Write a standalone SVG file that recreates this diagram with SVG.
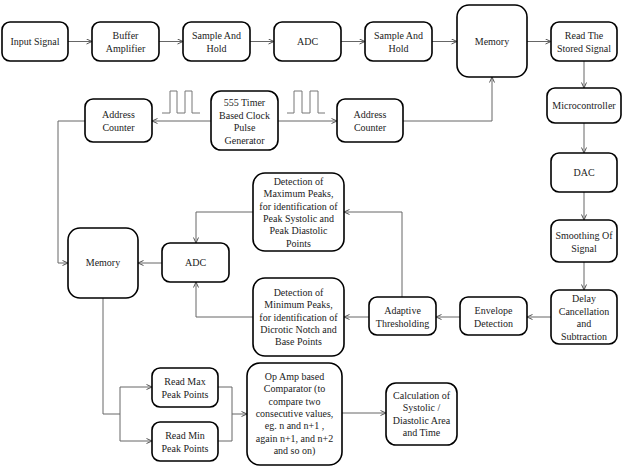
<svg xmlns="http://www.w3.org/2000/svg" width="623" height="467" viewBox="0 0 623 467" font-family="Liberation Serif, Times New Roman, serif">
<defs>
<marker id="ah" markerUnits="userSpaceOnUse" markerWidth="8" markerHeight="8" refX="6" refY="3" orient="auto">
<path d="M0.5,0.5 L6,3 L0.5,5.5" fill="none" stroke="#555" stroke-width="1"/>
</marker>
<style>
.b{fill:#fff;stroke:#000;stroke-width:1.6}
.t{font-size:10px;fill:#222;text-anchor:middle}
.c{fill:none;stroke:#666;stroke-width:1}
.a{marker-end:url(#ah)}
.p{fill:none;stroke:#777;stroke-width:1}
</style>
</defs>
<rect width="623" height="467" fill="#fff"/>
<g id="connectors">
<path class="c a" d="M68,41.5 H92"/>
<path class="c a" d="M159,41.5 H183"/>
<path class="c a" d="M250,41.5 H274"/>
<path class="c a" d="M341,41.5 H365"/>
<path class="c a" d="M432,41.5 H457"/>
<path class="c a" d="M527,41.5 H551"/>
<path class="c a" d="M584,61 V88"/>
<path class="c a" d="M584,123 V153"/>
<path class="c a" d="M584,192 V220"/>
<path class="c a" d="M584,262 V290"/>
<path class="c a" d="M551,317 H527"/>
<path class="c a" d="M460,317 H436"/>
<path class="c a" d="M369,317 H344"/>
<path class="c a" d="M402,297 V212 H344"/>
<path class="c a" d="M253,212 H196 V243"/>
<path class="c a" d="M253,317 H196 V282"/>
<path class="c a" d="M162,263 H138"/>
<path class="c a" d="M211,121 H152"/>
<path class="c a" d="M278,121 H337"/>
<path class="c a" d="M403,121 H492 V77"/>
<path class="c a" d="M85,121 H58 V263 H68"/>
<path class="c" d="M103,298 V414 H120"/>
<path class="c" d="M120,387 V441"/>
<path class="c a" d="M120,387 H152"/>
<path class="c a" d="M120,441 H152"/>
<path class="c" d="M218,387 H232 V441 H218"/>
<path class="c a" d="M232,414 H247"/>
<path class="c a" d="M342,413 H386"/>
<polyline class="p" points="162,113 170,113 170,91 177,91 177,113 185,113 185,91 192,91 192,113 200,113"/>
<polyline class="p" points="287,113 294,113 294,91 302,91 302,113 310,113 310,91 318,91 318,113 325,113"/>
</g>
<g id="input"><rect class="b" x="2" y="22" width="66" height="39" rx="8"/><text class="t" x="35" y="45">Input Signal</text></g>
<g id="buffer"><rect class="b" x="92" y="22" width="67" height="39" rx="8"/><text class="t" x="125.5" y="39">Buffer</text><text class="t" x="125.5" y="51.5">Amplifier</text></g>
<g id="sh1"><rect class="b" x="183" y="22" width="67" height="39" rx="8"/><text class="t" x="216.5" y="39">Sample And</text><text class="t" x="216.5" y="51.5">Hold</text></g>
<g id="adc1"><rect class="b" x="274" y="22" width="67" height="39" rx="8"/><text class="t" x="307.5" y="45">ADC</text></g>
<g id="sh2"><rect class="b" x="365" y="22" width="67" height="39" rx="8"/><text class="t" x="398.5" y="39">Sample And</text><text class="t" x="398.5" y="51.5">Hold</text></g>
<g id="memory1"><rect class="b" x="457" y="5" width="70" height="72" rx="12"/><text class="t" x="492" y="45">Memory</text></g>
<g id="read"><rect class="b" x="551" y="22" width="66" height="39" rx="8"/><text class="t" x="584" y="39">Read The</text><text class="t" x="584" y="51.5">Stored Signal</text></g>
<g id="mcu"><rect class="b" x="547" y="88" width="74" height="35" rx="8"/><text class="t" x="584" y="109">Microcontroller</text></g>
<g id="dac"><rect class="b" x="551" y="153" width="66" height="39" rx="8"/><text class="t" x="584" y="176">DAC</text></g>
<g id="smooth"><rect class="b" x="551" y="220" width="66" height="42" rx="8"/><text class="t" x="584" y="239">Smoothing Of</text><text class="t" x="584" y="251.5">Signal</text></g>
<g id="delay"><rect class="b" x="551" y="290" width="66" height="54" rx="8"/><text class="t" x="584" y="302">Delay</text><text class="t" x="584" y="314.5">Cancellation</text><text class="t" x="584" y="327">and</text><text class="t" x="584" y="339.5">Subtraction</text></g>
<g id="envelope"><rect class="b" x="460" y="297" width="67" height="38" rx="8"/><text class="t" x="493.5" y="314">Envelope</text><text class="t" x="493.5" y="326.5">Detection</text></g>
<g id="adaptive"><rect class="b" x="369" y="297" width="67" height="38" rx="8"/><text class="t" x="402.5" y="314">Adaptive</text><text class="t" x="402.5" y="326.5">Thresholding</text></g>
<g id="maxdet"><rect class="b" x="253" y="173" width="91" height="78" rx="12"/>
<text class="t" x="298.5" y="185">Detection of</text><text class="t" x="298.5" y="197.3">Maximum Peaks,</text><text class="t" x="298.5" y="209.6">for identification of</text><text class="t" x="298.5" y="221.9">Peak Systolic and</text><text class="t" x="298.5" y="234.2">Peak Diastolic</text><text class="t" x="298.5" y="246.5">Points</text></g>
<g id="mindet"><rect class="b" x="253" y="278" width="91" height="78" rx="12"/>
<text class="t" x="298.5" y="296">Detection of</text><text class="t" x="298.5" y="308.3">Minimum Peaks,</text><text class="t" x="298.5" y="320.6">for identification of</text><text class="t" x="298.5" y="332.9">Dicrotic Notch and</text><text class="t" x="298.5" y="345.2">Base Points</text></g>
<g id="adc2"><rect class="b" x="162" y="243" width="67" height="39" rx="8"/><text class="t" x="195.5" y="266">ADC</text></g>
<g id="memory2"><rect class="b" x="68" y="228" width="70" height="70" rx="12"/><text class="t" x="103" y="266">Memory</text></g>
<g id="addr1"><rect class="b" x="85" y="99" width="67" height="43" rx="8"/><text class="t" x="118.5" y="118">Address</text><text class="t" x="118.5" y="130.5">Counter</text></g>
<g id="timer"><rect class="b" x="211" y="91" width="67" height="59" rx="10"/><text class="t" x="244.5" y="106">555 Timer</text><text class="t" x="244.5" y="118.5">Based Clock</text><text class="t" x="244.5" y="131">Pulse</text><text class="t" x="244.5" y="143.5">Generator</text></g>
<g id="addr2"><rect class="b" x="337" y="99" width="66" height="43" rx="8"/><text class="t" x="370" y="118">Address</text><text class="t" x="370" y="130.5">Counter</text></g>
<g id="readmax"><rect class="b" x="152" y="368" width="66" height="39" rx="8"/><text class="t" x="185" y="385">Read Max</text><text class="t" x="185" y="397.5">Peak Points</text></g>
<g id="readmin"><rect class="b" x="152" y="422" width="66" height="39" rx="8"/><text class="t" x="185" y="439">Read Min</text><text class="t" x="185" y="451.5">Peak Points</text></g>
<g id="opamp"><rect class="b" x="247" y="363" width="95" height="102" rx="13"/>
<text class="t" x="294.5" y="380">Op Amp based</text><text class="t" x="294.5" y="392.3">Comparator (to</text><text class="t" x="294.5" y="404.6">compare two</text><text class="t" x="294.5" y="416.9">consecutive values,</text><text class="t" x="294.5" y="429.2">eg. n and n+1 ,</text><text class="t" x="294.5" y="441.5">again n+1, and n+2</text><text class="t" x="294.5" y="453.8">and so on)</text></g>
<g id="calc"><rect class="b" x="386" y="383" width="71" height="62" rx="10"/>
<text class="t" x="421.5" y="399">Calculation of</text><text class="t" x="421.5" y="411.3">Systolic /</text><text class="t" x="421.5" y="423.6">Diastolic Area</text><text class="t" x="421.5" y="435.9">and Time</text></g>
</svg>
